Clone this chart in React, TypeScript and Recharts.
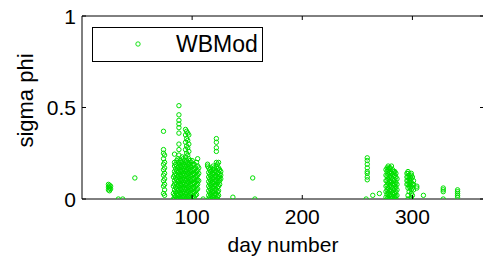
import { ScatterChart, Scatter, XAxis, YAxis, Legend } from 'recharts';

// x ticks / y ticks
const dayTicks = [100, 200, 300];
const sigmaTicks = [0, 0.5, 1];

// spring season: one day per column, values of sigma phi seen at that day
const springDays = [24, 25, 26, 33, 37, 48, 74, 75, 83, 84, 85, 86, 87, 88, 89, 90, 91, 92, 93, 94, 95, 96, 97, 98, 99, 100, 101, 102, 103, 104, 105, 106, 110, 114, 115, 116, 117, 118, 119, 120, 121, 122, 123, 124, 125, 126, 137, 155, 157];
const springValues = [
    [0.08, 0.065, 0.05],
    [0.075, 0.06, 0.045],
    [0.07, 0.055],
    [0],
    [0],
    [0.115],
    [0.37, 0.27, 0.25, 0.22, 0.19, 0.16, 0.13, 0.1, 0.07, 0.03],
    [0.24, 0.2, 0.17, 0.14, 0.11, 0.08, 0.05, 0.02],
    [0.12, 0.07, 0.03, 0],
    [0.245, 0.2, 0.18, 0.15, 0.13, 0.1, 0.08, 0.05, 0.02, 0],
    [0.19, 0.165, 0.14, 0.115, 0.09, 0.065, 0.04, 0.015],
    [0.21, 0.18, 0.155, 0.13, 0.105, 0.08, 0.055, 0.03, 0.005],
    [0.22, 0.17, 0.145, 0.12, 0.095, 0.07, 0.045, 0.02, 0],
    [0.51, 0.46, 0.43, 0.41, 0.39, 0.36, 0.3, 0.27, 0.24, 0.2, 0.175, 0.15, 0.125, 0.1, 0.075, 0.05, 0.025, 0],
    [0.21, 0.185, 0.16, 0.135, 0.11, 0.085, 0.06, 0.035, 0.01],
    [0.2, 0.175, 0.15, 0.125, 0.1, 0.075, 0.05, 0.025, 0],
    [0.23, 0.205, 0.18, 0.155, 0.13, 0.105, 0.08, 0.055, 0.03, 0.005],
    [0.22, 0.19, 0.165, 0.14, 0.115, 0.09, 0.065, 0.04, 0.015],
    [0.21, 0.18, 0.155, 0.13, 0.105, 0.08, 0.055, 0.03, 0],
    [0.38, 0.35, 0.31, 0.27, 0.23, 0.2, 0.175, 0.15, 0.125, 0.1, 0.075, 0.05, 0.025, 0],
    [0.37, 0.33, 0.29, 0.25, 0.21, 0.185, 0.16, 0.135, 0.11, 0.085, 0.06, 0.035, 0.01],
    [0.36, 0.32, 0.28, 0.24, 0.2, 0.175, 0.15, 0.125, 0.1, 0.075, 0.05, 0.025, 0],
    [0.35, 0.3, 0.26, 0.22, 0.19, 0.165, 0.14, 0.115, 0.09, 0.065, 0.04, 0.015],
    [0.21, 0.18, 0.155, 0.13, 0.105, 0.08, 0.055, 0.03, 0.005],
    [0.2, 0.175, 0.15, 0.125, 0.1, 0.075, 0.05, 0.025, 0],
    [0.21, 0.185, 0.16, 0.135, 0.11, 0.085, 0.06, 0.035, 0.01],
    [0.19, 0.165, 0.14, 0.115, 0.09, 0.065, 0.04, 0.015],
    [0.19, 0.16, 0.135, 0.11, 0.085, 0.06, 0.035, 0.01],
    [0.17, 0.145, 0.12, 0.095, 0.07, 0.045, 0.02],
    [0.2, 0.15, 0.125, 0.1, 0.075, 0.05, 0.025],
    [0.22, 0.18, 0.155, 0.13, 0.105, 0.08, 0.055],
    [0.17, 0.14, 0.1],
    [0],
    [0.19, 0.18],
    [0.17, 0.145, 0.12, 0.095, 0.07, 0.045, 0.02, 0],
    [0.16, 0.135, 0.11, 0.085, 0.06, 0.035, 0.01],
    [0.17, 0.15, 0.125, 0.1, 0.075, 0.05, 0.025, 0],
    [0.14, 0.115, 0.09, 0.065, 0.04, 0.015],
    [0.18, 0.16, 0.135, 0.11, 0.085, 0.06, 0.035, 0.01],
    [0.17, 0.145, 0.12, 0.095, 0.07, 0.045, 0.02, 0],
    [0.15, 0.125, 0.1, 0.075, 0.05, 0.025],
    [0.33, 0.31, 0.28, 0.26, 0.2, 0.175, 0.15, 0.125, 0.1, 0.075, 0.05, 0.025, 0],
    [0.19, 0.165, 0.14, 0.115, 0.09, 0.065, 0.04, 0.015, 0],
    [0.2, 0.17, 0.145, 0.12, 0.095, 0.07, 0.045, 0.02],
    [0.16, 0.135, 0.12, 0.1, 0.08],
    [0.15, 0.13, 0.11],
    [0.01],
    [0.115],
    [0],
];

// autumn season
const autumnDays = [258, 259, 264, 270, 276, 277, 278, 279, 280, 281, 282, 283, 284, 285, 286, 295, 296, 297, 298, 299, 300, 301, 304, 310, 328, 341];
const autumnValues = [
    [0],
    [0.225, 0.21, 0.19, 0.17, 0.15, 0.14, 0.12, 0.105],
    [0.02],
    [0.03],
    [0.16, 0.13, 0.1, 0.07, 0.04, 0.01],
    [0.17, 0.15, 0.125, 0.1, 0.075, 0.05, 0.025, 0],
    [0.18, 0.16, 0.135, 0.11, 0.085, 0.06, 0.035, 0.01],
    [0.17, 0.145, 0.12, 0.095, 0.07, 0.045, 0.02, 0],
    [0.17, 0.15, 0.125, 0.1, 0.075, 0.05, 0.025, 0.005],
    [0.18, 0.14, 0.115, 0.09, 0.065, 0.04, 0.015, 0],
    [0.16, 0.135, 0.11, 0.085, 0.06, 0.035, 0.01],
    [0.15, 0.125, 0.1, 0.075, 0.05, 0.025, 0],
    [0.15, 0.13, 0.105, 0.08, 0.055, 0.03, 0.01],
    [0.14, 0.12, 0.09, 0.065, 0.04, 0.015, 0],
    [0.11, 0.08, 0.05, 0.02],
    [0.14, 0.12, 0.1, 0.08],
    [0.15, 0.14, 0.12, 0.1, 0.08, 0.06, 0.02, 0],
    [0.13, 0.11, 0.09, 0.07, 0.04],
    [0.12, 0.1, 0.08, 0.06],
    [0.14, 0.13, 0.11, 0.09, 0.07, 0.05, 0.03, 0.01, 0],
    [0.12, 0.08, 0.06, 0.02],
    [0.1, 0.08, 0.05],
    [0.07, 0.06],
    [0.02],
    [0.06, 0.05, 0.04, 0],
    [0.05, 0.04, 0.03, 0.02, 0.01],
];

const toPoints = (days: number[], values: number[][]) =>
    days.flatMap((d, i) => values[i].map(v => ({ day: d, sigma: v })));

const data = [...toPoints(springDays, springValues), ...toPoints(autumnDays, autumnValues)];

const FONT = '"Liberation Sans", Arial, sans-serif';
const GREEN = '#00e000';

const Circle = (p: any) => (
    <circle cx={p.cx} cy={p.cy} r={2.2} fill="none" stroke={GREEN} strokeWidth={1} />
);

// matlab style ticks point inward
const BottomTick = ({ x, y, payload }: any) => (
    <g>
        <line x1={x} y1={y} x2={x} y2={y - 4} stroke="#000" />
        <text x={x} y={y + 25} textAnchor="middle" fontSize={21} fontFamily={FONT} fill="#000">{payload.value}</text>
    </g>
);
const TopTick = ({ x, y }: any) => <line x1={x} y1={y} x2={x} y2={y + 4} stroke="#000" />;
const LeftTick = ({ x, y, payload }: any) => (
    <g>
        <line x1={x} y1={y} x2={x + 4} y2={y} stroke="#000" />
        <text x={x - 6} y={y + 7.5} textAnchor="end" fontSize={21} fontFamily={FONT} fill="#000">{payload.value}</text>
    </g>
);
const RightTick = ({ x, y }: any) => <line x1={x} y1={y} x2={x - 4} y2={y} stroke="#000" />;

const YLabel = ({ viewBox }: any) => {
    const cx = viewBox.x + 33;
    const cy = viewBox.y + viewBox.height / 2 - 7;
    return (
        <text x={cx} y={cy} transform={`rotate(-90, ${cx}, ${cy})`} textAnchor="middle" fontSize={22} fontFamily={FONT} fill="#000">
            sigma phi
        </text>
    );
};

const XLabel = ({ viewBox }: any) => (
    <text x={viewBox.x + viewBox.width / 2} y={viewBox.y + 53} textAnchor="middle" fontSize={21} fontFamily={FONT} fill="#000">
        day number
    </text>
);

const LegendBox = () => (
    <div style={{ position: 'relative', width: 171, height: 35, boxSizing: 'border-box', border: '1px solid #000', background: '#fff', fontFamily: FONT }}>
        <svg width={10} height={10} style={{ position: 'absolute', left: 40, top: 11 }}>
            <circle cx={5} cy={5} r={2.2} fill="none" stroke={GREEN} strokeWidth={0.9} />
        </svg>
        <span style={{ position: 'absolute', left: 83, top: 3, fontSize: 23, lineHeight: '26px', color: '#000' }}>WBMod</span>
    </div>
);

export default function App() {
    return (
        <div style={{ position: 'absolute', left: 0, top: 0, width: 483, height: 264, overflow: 'hidden', background: '#fff' }}>
            <ScatterChart width={485} height={264} margin={{ top: 15, right: 0, bottom: 0, left: 0 }}>
                <XAxis
                    dataKey="day" type="number" domain={[0, 365]} ticks={dayTicks} allowDataOverflow
                    height={65} tickSize={0} tickMargin={0} tick={<BottomTick />} axisLine={{ stroke: '#000' }}
                    label={<XLabel />}
                />
                <XAxis
                    xAxisId="top" orientation="top" dataKey="day" type="number" domain={[0, 365]} ticks={dayTicks} allowDataOverflow
                    height={1} tickSize={0} tickMargin={0} tick={<TopTick />} axisLine={{ stroke: '#000' }}
                />
                <YAxis
                    dataKey="sigma" type="number" domain={[0, 1]} ticks={sigmaTicks} allowDataOverflow
                    width={82} tickSize={0} tickMargin={0} tick={<LeftTick />} axisLine={{ stroke: '#000' }}
                    label={<YLabel />}
                />
                <YAxis
                    yAxisId="right" orientation="right" dataKey="sigma" type="number" domain={[0, 1]} ticks={sigmaTicks} allowDataOverflow
                    width={1} tickSize={0} tickMargin={0} tick={<RightTick />} axisLine={{ stroke: '#000' }}
                />
                <Legend
                    layout="horizontal" verticalAlign="middle" align="center"
                    wrapperStyle={{ left: 92, top: 27, width: 171, height: 35 }}
                    content={<LegendBox />}
                />
                <Scatter name="WBMod" data={data} shape={Circle} isAnimationActive={false} />
            </ScatterChart>
        </div>
    );
}
